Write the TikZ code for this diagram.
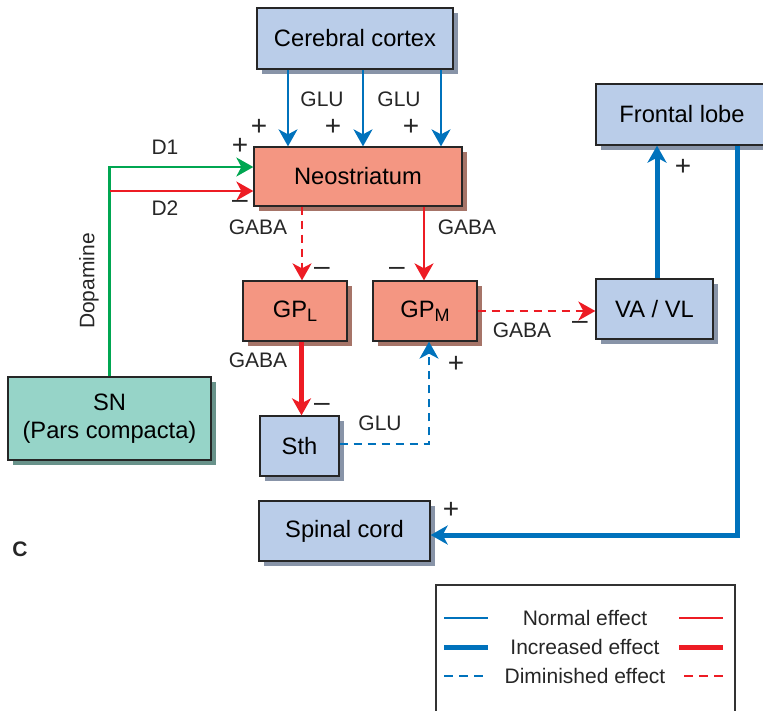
\documentclass[tikz,border=0pt]{standalone}
\usepackage{fontspec}
\setmainfont{Liberation Sans}
\usetikzlibrary{positioning, arrows.meta, shadows}

\definecolor{boxblue}{RGB}{186,205,233}
\definecolor{shadeblue}{RGB}{136,148,168}
\definecolor{boxred}{RGB}{244,150,130}
\definecolor{shadered}{RGB}{166,116,104}
\definecolor{boxteal}{RGB}{150,212,200}
\definecolor{shadeteal}{RGB}{104,146,138}
\definecolor{lineblue}{RGB}{0,114,188}
\definecolor{linered}{RGB}{237,28,36}
\definecolor{linegreen}{RGB}{0,166,81}

\newcommand{\gpsub}[1]{\raisebox{-4.5pt}{\fontsize{18}{20}\selectfont #1}}

\begin{document}
\begin{tikzpicture}[
    x=1pt, y=-1pt,
    font=\fontsize{21}{25}\selectfont,
    >={Stealth[length=17pt,width=19pt,inset=5pt]},
    box/.style     ={rectangle, draw=black!85, line width=1.3pt, inner sep=0pt, align=center, font=\fontsize{23.7}{28}\selectfont},
    bluebox/.style ={box, fill=boxblue,  drop shadow={shadow xshift=5pt, shadow yshift=-5pt, fill=shadeblue, opacity=1}},
    redbox/.style  ={box, fill=boxred,   drop shadow={shadow xshift=5pt, shadow yshift=-5pt, fill=shadered, opacity=1}},
    tealbox/.style ={box, fill=boxteal,  drop shadow={shadow xshift=5pt, shadow yshift=-5pt, fill=shadeteal, opacity=1}},
    lbl/.style={inner sep=0pt, text=black!85},
    sign/.style={inner sep=0pt, text=black!85, font=\fontsize{28}{30}\selectfont},
    normal/.style={line width=2.2pt},
    increased/.style={line width=5pt},
    diminished/.style={line width=2.2pt, dash pattern=on 8pt off 6pt},
]
\clip (0,0) rectangle (763,710);

%==================== BOXES ====================

\node[bluebox, minimum width=196pt, minimum height=61pt] (cortex) at (355,38.5) {Cerebral cortex};
\node[redbox,  minimum width=208pt, minimum height=59pt] (neo)    at (358,176.5) {Neostriatum};

\node[redbox, minimum width=104pt, minimum height=60pt] (gpl) at (295,311) {GP\gpsub{L}};
\node[redbox, minimum width=104pt, minimum height=60pt] (gpm) at (425,311) {GP\gpsub{M}};

\node[bluebox, minimum width=79pt, minimum height=60pt] (sth) at (299.5,446) {Sth};
\node[tealbox, minimum width=203pt, minimum height=83pt] (sn) at (109.5,418.5) {SN\\(Pars compacta)};

\node[bluebox, minimum width=171pt, minimum height=60pt] (spinal) at (344.5,531) {Spinal cord};

\node[bluebox, minimum width=172pt, minimum height=61pt] (frontal) at (682,114.5) {Frontal lobe};
\node[bluebox, minimum width=117pt, minimum height=60pt] (vavl) at (654.5,309) {VA / VL};

%==================== ARROWS ====================

% cortex to neostriatum
\draw[->, normal, lineblue] ([xshift=-67pt]cortex.south) -- ([xshift=-67pt]cortex.south |- neo.north);
\draw[->, normal, lineblue] ([xshift=8pt]cortex.south)   -- ([xshift=8pt]cortex.south |- neo.north);
\draw[->, normal, lineblue] ([xshift=86pt]cortex.south)  -- ([xshift=86pt]cortex.south |- neo.north);

% dopamine
\draw[->, normal, linegreen] (sn.north) |- ([yshift=9.5pt]neo.west);
\draw[->, normal, linered] ([yshift=-14.5pt]neo.west -| sn.north) -- ([yshift=-14.5pt]neo.west);

% neostriatum to pallidum
\draw[->, diminished, linered] ([xshift=-56pt]neo.south) -- ([xshift=-56pt]neo.south |- gpl.north);
\draw[->, normal, linered]     ([xshift=66pt]neo.south)  -- ([xshift=66pt]neo.south |- gpm.north);

\draw[->, increased, linered] ([xshift=6.5pt]gpl.south) -- ([xshift=6.5pt]gpl.south |- sth.north);
\draw[->, diminished, lineblue] ([yshift=2pt]sth.east) -| ([xshift=4pt]gpm.south);

\draw[->, diminished, linered] (gpm.east) -- (gpm.east -| vavl.west);
\draw[->, increased, lineblue] ([xshift=2.5pt]vavl.north) -- ([xshift=2.5pt]vavl.north |- frontal.south);
\draw[->, increased, lineblue] ([xshift=55pt]frontal.south) |- ([yshift=-4pt]spinal.east);

%==================== LABELS ====================

\node[lbl] (glu1) at (322,99) {GLU};
\node[lbl] (glu2) at (399,99) {GLU};
\node[lbl] (d1) at (165,147) {D1};
\node[lbl] (d2) at (165,208) {D2};
\node[lbl, rotate=90] (dopa) at (89,281) {Dopamine};
\node[lbl] (gaba1) at (258,227) {GABA};
\node[lbl] (gaba2) at (467,227) {GABA};
\node[lbl] (gaba3) at (258,360) {GABA};
\node[lbl] (gaba4) at (522,330) {GABA};
\node[lbl] (glu3) at (380,423) {GLU};

\node[sign] (p1) at (259,127) {+};
\node[sign] (p2) at (333,127) {+};
\node[sign] (p3) at (411,127) {+};
\node[sign] (pd1) at (240,146) {+};
\node[sign] (md2) at (240,204) {\textendash};
\node[sign] (mgpl) at (322,271) {\textendash};
\node[sign] (mgpm) at (397,271) {\textendash};
\node[sign] (msth) at (322,407) {\textendash};
\node[sign] (pgpm) at (456,364) {+};
\node[sign] (mva) at (580,325) {\textendash};
\node[sign] (pfr) at (683,167) {+};
\node[sign] (psp) at (451,510) {+};

\node[lbl, font=\fontsize{21}{25}\selectfont\bfseries] (panel) at (20,549) {C};

%==================== LEGEND ====================

\node[draw=black!80, line width=1.3pt, minimum width=299pt, minimum height=135pt] (legend) at (585.5,652.5) {};
\node[lbl] (lnorm) at (585,618) {Normal effect};
\node[lbl] (linc)  at (585,647) {Increased effect};
\node[lbl] (ldim)  at (585,676) {Diminished effect};

\draw[normal, lineblue]     ([xshift=9pt]legend.west |- lnorm) -- ++(44,0);
\draw[increased, lineblue]  ([xshift=9pt]legend.west |- linc)  -- ++(44,0);
\draw[diminished, lineblue, dash pattern=on 9pt off 6pt] ([xshift=9pt]legend.west |- ldim) -- ++(39,0);
\draw[normal, linered]      ([xshift=-13pt]legend.east |- lnorm) -- ++(-44,0);
\draw[increased, linered]   ([xshift=-13pt]legend.east |- linc)  -- ++(-44,0);
\draw[diminished, linered, dash pattern=on 9pt off 6pt] ([xshift=-13pt]legend.east |- ldim) -- ++(-39,0);

\end{tikzpicture}
\end{document}
